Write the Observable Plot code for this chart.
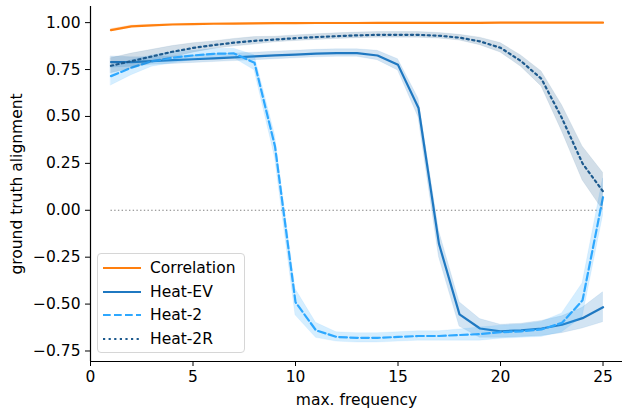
<!DOCTYPE html>
<html><head><meta charset="utf-8">
<script src="https://cdn.jsdelivr.net/npm/d3@7"></script>
<script src="https://cdn.jsdelivr.net/npm/@observablehq/plot@0.6"></script>
<style>
body{margin:0;background:#fff;}
#wrap{position:relative;width:623px;height:412px;font-family:"DejaVu Sans",sans-serif;}
#legend{position:absolute;left:97px;top:253px;width:148px;height:100px;border:1px solid #d6d6d6;border-radius:4px;background:rgba(255,255,255,0.8);box-sizing:border-box;}
.row{position:absolute;left:5px;height:20px;display:flex;align-items:center;font-size:15.5px;color:#000;white-space:nowrap;}
.row svg{margin-right:9px;}
</style></head><body><div id="wrap"></div>
<script>
const maxFrequency = [1,2,3,4,5,6,7,8,9,10,11,12,13,14,15,16,17,18,19,20,21,22,23,24,25];
const seriesNames = ["Correlation","Heat-EV","Heat-2","Heat-2R"];
const correlation = [0.96,0.98,0.985,0.99,0.992,0.994,0.995,0.996,0.997,0.997,0.998,0.998,0.998,0.999,0.999,0.999,0.999,0.999,0.999,1,1,1,1,1,1];
const correlationSpread = [0.006,0.005,0.004,0.003,0.003,0.003,0.002,0.002,0.002,0.002,0.002,0.002,0.002,0.001,0.001,0.001,0.001,0.001,0.001,0.001,0.001,0.001,0.001,0.001,0.001];
const heatEV = [0.79,0.79,0.795,0.80,0.805,0.81,0.815,0.82,0.825,0.83,0.835,0.838,0.838,0.825,0.775,0.545,-0.18,-0.555,-0.63,-0.645,-0.64,-0.63,-0.61,-0.575,-0.517];
const heatEVSpread = [0.03,0.025,0.02,0.02,0.02,0.02,0.02,0.02,0.02,0.02,0.02,0.02,0.02,0.025,0.03,0.05,0.07,0.065,0.05,0.035,0.035,0.04,0.045,0.055,0.08];
const heat2 = [0.715,0.76,0.795,0.813,0.825,0.834,0.836,0.786,0.34,-0.49,-0.64,-0.675,-0.68,-0.68,-0.675,-0.67,-0.67,-0.665,-0.66,-0.65,-0.645,-0.635,-0.6,-0.48,0.07];
const heat2Spread = [0.05,0.04,0.03,0.03,0.025,0.025,0.025,0.04,0.06,0.07,0.04,0.025,0.025,0.025,0.025,0.025,0.025,0.03,0.035,0.035,0.035,0.04,0.05,0.09,0.1];
const heat2R = [0.77,0.795,0.82,0.845,0.865,0.88,0.893,0.903,0.91,0.917,0.923,0.928,0.932,0.935,0.935,0.935,0.93,0.92,0.9,0.866,0.795,0.70,0.49,0.25,0.10];
const heat2RSpread = [0.04,0.04,0.035,0.03,0.025,0.02,0.02,0.02,0.015,0.015,0.015,0.015,0.015,0.015,0.015,0.015,0.015,0.015,0.02,0.025,0.03,0.04,0.07,0.09,0.1];
const yTicks = [-0.75,-0.5,-0.25,0,0.25,0.5,0.75,1.0];
const xTicks = [0,5,10,15,20,25];

const colors = {"Correlation":"#ff7f0e","Heat-EV":"#1f78c1","Heat-2":"#2ea8ff","Heat-2R":"#1d5a8e"};
const dashes = {"Correlation":null,"Heat-EV":null,"Heat-2":"7.7,3.3","Heat-2R":"2.2,3.4"};
const valuesBy = {"Correlation":[correlation,correlationSpread],"Heat-EV":[heatEV,heatEVSpread],"Heat-2":[heat2,heat2Spread],"Heat-2R":[heat2R,heat2RSpread]};

const xDomain = [0, 25.95];
const yDomain = [-0.806, 1.086];

const marks = [];
for (const name of seriesNames) {
  const [v, s] = valuesBy[name];
  const rows = maxFrequency.map((x, i) => ({x, y: v[i], lo: v[i] - s[i], hi: v[i] + s[i]}));
  marks.push(Plot.areaY(rows, {x: "x", y1: "lo", y2: "hi", fill: colors[name], fillOpacity: 0.2, stroke: colors[name], strokeOpacity: 0.08, strokeWidth: 1}));
  marks.push(Plot.lineY(rows, {x: "x", y: "y", stroke: colors[name], strokeWidth: 2.2, strokeDasharray: dashes[name]}));
}
const zeroRef = [0];
const chart = Plot.plot({
  width: 623, height: 412,
  marginLeft: 90, marginRight: 1, marginTop: 6, marginBottom: 51,
  style: {fontFamily: "DejaVu Sans, sans-serif", fontSize: "15.5px", color: "#000", background: "#fff"},
  x: {domain: xDomain, ticks: xTicks, tickFormat: d3.format("d")},
  y: {domain: yDomain, ticks: yTicks, tickFormat: d3.format(".2f")},
  marks: [
    Plot.ruleY(zeroRef, {x1: maxFrequency[0], x2: maxFrequency[maxFrequency.length-1], stroke: "#808080", strokeWidth: 1.2, strokeDasharray: "1.4,2.3"}),
    ...marks,
    Plot.ruleX([xDomain[0]], {stroke: "#000", strokeWidth: 1.2}),
    Plot.ruleY([yDomain[0]], {stroke: "#000", strokeWidth: 1.2}),
    Plot.axisX({ticks: xTicks, tickFormat: d3.format("d"), tickSize: 5, tickPadding: 4, label: "max. frequency", labelAnchor: "center", labelOffset: 43, labelArrow: false, fontSize: 15.5}),
    Plot.axisY({ticks: yTicks, tickFormat: d3.format(".2f"), tickSize: 5, tickPadding: 5, label: "ground truth alignment", labelAnchor: "center", labelOffset: 80, labelArrow: false, fontSize: 15.5})
  ]
});
const wrap = document.getElementById("wrap");
wrap.appendChild(chart);

const legend = document.createElement("div");
legend.id = "legend";
const rowTops = [4, 28, 51, 75];
seriesNames.forEach((name, i) => {
  const row = document.createElement("div");
  row.className = "row";
  row.style.top = rowTops[i] + "px";
  const d = dashes[name] ? ` stroke-dasharray="${dashes[name]}"` : "";
  row.innerHTML = `<svg width="38" height="20"><line x1="0" x2="38" y1="10" y2="10" stroke="${colors[name]}" stroke-width="2.2"${d}/></svg><span>${name}</span>`;
  legend.appendChild(row);
});
wrap.appendChild(legend);
</script></body></html>
